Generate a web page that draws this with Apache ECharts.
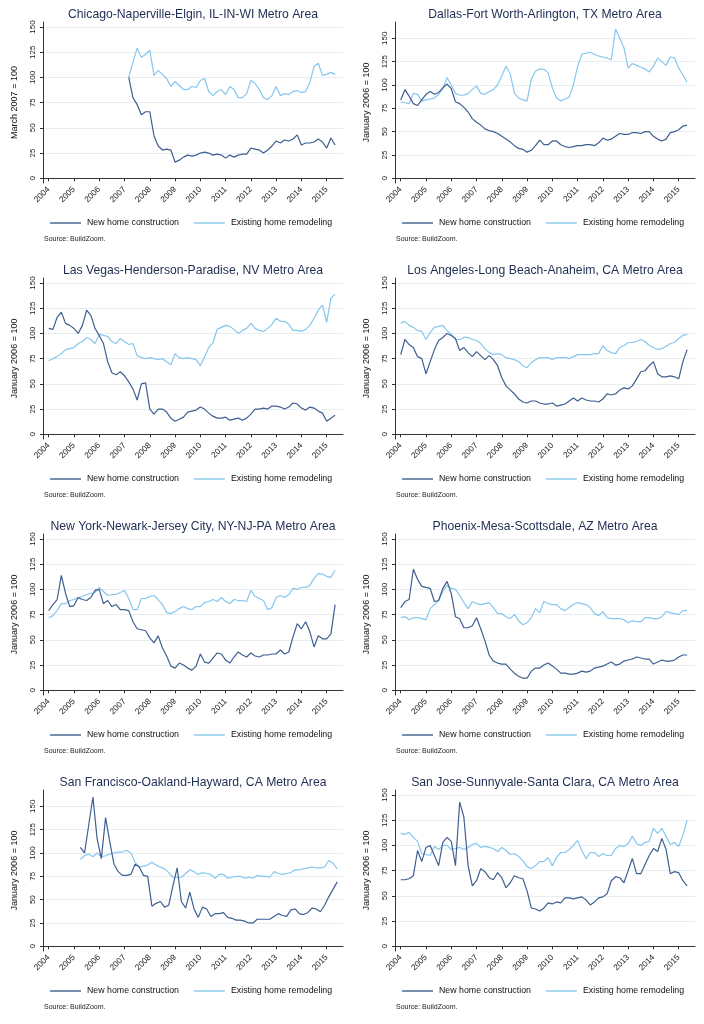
<!DOCTYPE html>
<html>
<head>
<meta charset="utf-8">
<script src="https://cdn.jsdelivr.net/npm/echarts@6/dist/echarts.min.js"></script>
<style>
html,body{margin:0;padding:0;background:#fff;width:704px;height:1024px;overflow:hidden;position:relative;}
.p{position:absolute;width:352px;height:256px;}
#sep{position:absolute;left:352px;top:0;width:1px;height:1020px;background:#f1f3f4;}
#bot{position:absolute;left:0;top:1020px;width:704px;height:4px;background:#dcdcdc;}
</style>
</head>
<body>
<div id="sep"></div>
<div id="bot"></div>
<div class="p" id="c0" style="left:0;top:0"></div>
<div class="p" id="c1" style="left:352px;top:0"></div>
<div class="p" id="c2" style="left:0;top:256px"></div>
<div class="p" id="c3" style="left:352px;top:256px"></div>
<div class="p" id="c4" style="left:0;top:512px"></div>
<div class="p" id="c5" style="left:352px;top:512px"></div>
<div class="p" id="c6" style="left:0;top:768px"></div>
<div class="p" id="c7" style="left:352px;top:768px"></div>
<script>
// ---- tick labels ----
const yearTicks = [2004,2005,2006,2007,2008,2009,2010,2011,2012,2013,2014,2015];
const valueTicks = [0,25,50,75,100,125,150];
const seriesNames = ['New home construction','Existing home remodeling'];

// ---- series values, one value every 2 months from the start month ----
const chicagoStart = '2007-03';
const chicagoNew = [100,80,73,63,66,66,42,32,28,29, 28,16,18,21,23,22,23,25,26,25, 23,24,23,20,23,21,23,24,24,30, 29,28,25,28,32,37,35,38,37,39, 43,33,35,35,36,39,36,30,40,33];
const chicagoRemodel = [100,115,129,120,123,127,102,107,103,99, 91,96,92,88,88,91,90,97,99,86, 82,86,88,83,91,88,80,80,84,97, 94,88,80,78,82,91,82,84,83,86, 87,85,86,95,111,114,102,103,105,103];

const dallasStart = '2004-01';
const dallasNew = [84,95,88,80,78,84,90,93,90,92, 97,101,96,82,80,76,71,64,60,57, 53,51,50,48,45,42,39,35,32,31, 28,30,35,41,36,36,40,40,36,34, 33,34,35,35,36,36,35,38,43,41, 42,45,48,47,47,49,49,48,50,50, 45,42,40,42,49,50,52,56,57];
const dallasRemodel = [82,81,80,91,90,83,84,85,86,90, 96,108,100,91,89,89,91,95,99,91, 90,93,95,100,110,120,112,91,86,84, 83,106,115,117,117,113,97,86,83,85, 87,100,120,133,134,135,133,131,130,129, 127,160,150,140,118,123,121,119,117,114, 120,129,125,121,130,129,118,111,103];

const vegasStart = '2004-01';
const vegasNew = [105,104,116,121,110,108,105,100,108,123, 118,105,98,90,72,61,59,62,58,52, 45,34,50,51,25,20,25,25,22,16, 13,15,17,22,23,24,27,25,21,18, 16,16,17,14,15,16,14,16,20,25, 25,26,25,28,28,27,25,27,31,30, 26,24,27,26,23,21,13,16,19];
const vegasRemodel = [73,75,77,80,84,85,86,90,92,96, 94,90,99,98,97,92,90,95,92,89, 90,78,76,75,76,75,74,75,72,69, 80,76,75,76,75,74,68,77,86,91, 104,106,108,107,104,100,103,105,110,105, 103,102,105,109,115,112,112,109,103,103, 102,104,108,115,123,128,111,135,139];

const laStart = '2004-01';
const laNew = [79,94,89,86,77,75,60,72,84,93, 96,100,98,95,83,86,81,77,82,78, 74,78,74,68,56,48,44,40,35,32, 31,33,33,31,30,30,31,28,29,30, 33,36,33,36,34,33,33,32,35,40, 39,40,44,46,45,48,55,62,63,68, 72,60,57,57,58,57,55,72,84];
const laRemodel = [110,112,108,106,103,102,94,101,106,107, 108,103,99,94,94,96,96,94,93,90, 85,81,79,80,79,76,75,74,72,68, 66,71,74,76,76,76,74,76,76,76, 75,77,79,79,79,79,80,80,88,83, 81,80,86,88,91,91,92,94,92,88, 86,84,85,87,90,91,95,98,99];

const nyStart = '2004-01';
const nyNew = [79,85,90,114,96,83,84,92,90,89, 92,99,100,86,89,83,85,80,80,79, 68,61,60,59,52,47,54,42,34,24, 22,27,25,22,20,24,36,28,27,32, 37,36,30,27,33,38,35,33,37,34, 33,35,35,36,36,40,36,38,53,66, 61,68,58,43,54,51,51,56,85];
const nyRemodel = [72,74,79,86,86,89,90,92,93,95, 96,97,102,98,94,95,95,97,99,91, 80,80,91,91,93,94,90,85,77,76, 78,81,83,81,80,83,83,87,88,90, 88,92,88,86,90,89,89,88,99,93, 91,89,80,82,92,94,92,95,101,100, 102,102,104,111,116,115,113,112,119];

const phoenixStart = '2004-01';
const phoenixNew = [82,88,90,120,110,103,102,101,88,89, 101,108,96,73,71,62,62,64,72,61, 49,35,29,27,26,26,21,17,14,12, 12,19,22,22,25,27,24,21,17,17, 16,16,17,19,18,19,22,23,24,26, 28,25,26,29,30,31,33,32,31,31, 26,28,30,29,29,30,33,35,35];
const phoenixRemodel = [72,73,70,72,72,71,70,81,85,89, 98,104,101,100,94,87,81,88,86,85, 86,87,82,76,76,73,71,75,69,65, 67,72,81,77,88,86,85,85,81,79, 82,85,87,86,85,82,76,74,78,72, 71,71,71,70,67,69,68,68,72,72, 71,71,73,78,77,76,75,79,79];

const sfStart = '2005-04';
const sfNew = [106,100,130,160,115,94,138,112,88,80, 76,76,77,88,85,76,75,43,46,48, 42,44,65,84,48,41,58,40,31,42, 40,32,35,35,36,31,30,28,28,27, 25,25,29,29,29,29,32,35,33,32, 39,40,35,34,36,41,40,37,44,53, 61,69];
const sfRemodel = [93,97,99,96,100,96,97,99,100,101, 101,103,100,90,85,86,87,90,87,85, 83,79,74,74,74,78,82,80,77,79, 78,77,73,77,77,73,74,75,75,73, 74,73,76,75,75,74,80,78,77,78, 79,82,82,83,84,85,84,84,85,92, 89,83];

const sanjoseStart = '2004-01';
const sanjoseNew = [66,66,67,70,95,84,98,100,90,80, 103,108,104,80,143,128,80,60,65,77, 74,68,66,73,68,58,63,70,68,67, 55,38,37,35,38,43,42,44,43,48, 48,47,48,49,46,41,44,48,49,52, 65,69,68,63,75,87,72,72,81,90, 97,94,107,96,72,74,73,65,60];
const sanjoseRemodel = [112,111,113,108,104,92,91,90,99,96, 100,100,96,97,98,96,98,101,102,98, 99,98,97,94,98,95,91,92,89,85, 79,77,80,84,84,88,80,88,93,93, 96,100,105,95,87,93,93,89,92,90, 90,97,100,99,102,109,102,100,103,104, 117,112,117,109,101,103,99,110,125];

// ---- panels ----
const panels = [
  {title:'Chicago-Naperville-Elgin, IL-IN-WI Metro Area', yName:'March 2007 = 100', start:chicagoStart, a:chicagoNew, b:chicagoRemodel, tall:false},
  {title:'Dallas-Fort Worth-Arlington, TX Metro Area', yName:'January 2006 = 100', start:dallasStart, a:dallasNew, b:dallasRemodel, tall:true},
  {title:'Las Vegas-Henderson-Paradise, NV Metro Area', yName:'January 2006 = 100', start:vegasStart, a:vegasNew, b:vegasRemodel, tall:false},
  {title:'Los Angeles-Long Beach-Anaheim, CA Metro Area', yName:'January 2006 = 100', start:laStart, a:laNew, b:laRemodel, tall:false},
  {title:'New York-Newark-Jersey City, NY-NJ-PA Metro Area', yName:'January 2006 = 100', start:nyStart, a:nyNew, b:nyRemodel, tall:false},
  {title:'Phoenix-Mesa-Scottsdale, AZ Metro Area', yName:'January 2006 = 100', start:phoenixStart, a:phoenixNew, b:phoenixRemodel, tall:false},
  {title:'San Francisco-Oakland-Hayward, CA Metro Area', yName:'January 2006 = 100', start:sfStart, a:sfNew, b:sfRemodel, tall:true},
  {title:'San Jose-Sunnyvale-Santa Clara, CA Metro Area', yName:'January 2006 = 100', start:sanjoseStart, a:sanjoseNew, b:sanjoseRemodel, tall:false}
];

const FONT = '"Liberation Sans", Arial, Helvetica, sans-serif';
const DARK = '#3f5f90';
const LIGHT = '#86c7ee';

function toPairs(start, arr){
  const [y,m] = start.split('-').map(Number);
  const t0 = y + (m-1)/12;
  return arr.map((v,i)=>[t0 + i*2/12, v]);
}

panels.forEach((p, idx) => {
  const chart = echarts.init(document.getElementById('c'+idx), null, {renderer:'canvas'});
  const yMin = p.tall ? -5.04 : -4.66;
  const yMax = p.tall ? 167.5 : 154.96;
  chart.setOption({
    animation:false,
    backgroundColor:'#fff',
    textStyle:{fontFamily:FONT},
    title:[
      {text:p.title, left:193, top:8.5, padding:0, textAlign:'center',
       textStyle:{fontSize:12.2, fontWeight:'normal', color:'#1e2d52', fontFamily:FONT}},
      {text:'Source: BuildZoom.', left:44, top:235.5, padding:0,
       textStyle:{fontSize:7, fontWeight:'normal', color:'#222', fontFamily:FONT}}
    ],
    legend:{
      left:50, top:218.5, padding:0, width:330, orient:'horizontal',
      icon:'rect', itemWidth:31, itemHeight:1.4, itemGap:15,
      textStyle:{fontSize:8.8, color:'#111', fontFamily:FONT, padding:[0,0,0,1]},
      data:seriesNames
    },
    grid:{left:43, right:9, top:22, bottom:73, containLabel:false},
    xAxis:{
      type:'value', min:2003.774, max:2015.645,
      axisLine:{show:true, lineStyle:{color:'#333', width:1}},
      axisTick:{show:true, length:3, customValues:yearTicks, lineStyle:{color:'#333'}},
      axisLabel:{customValues:yearTicks, rotate:45, fontSize:8.3, margin:5, color:'#1a1a1a',
                 fontFamily:FONT, formatter:v=>String(v)},
      splitLine:{show:false}
    },
    yAxis:{
      type:'value', min:yMin, max:yMax,
      name:p.yName, nameLocation:'middle', nameGap:24, nameRotate:90,
      nameTextStyle:{fontSize:9, color:'#111', fontFamily:FONT},
      axisLine:{show:true, lineStyle:{color:'#333', width:1}},
      axisTick:{show:true, length:3, customValues:valueTicks, lineStyle:{color:'#333'}},
      axisLabel:{customValues:valueTicks, rotate:90, fontSize:8, margin:6, color:'#1a1a1a',
                 fontFamily:FONT, formatter:v=>String(v)},
      splitLine:{show:true, lineStyle:{color:'#e6eef0', width:1}}
    },
    series:[
      {name:seriesNames[0], type:'line', data:toPairs(p.start, p.a), symbol:'none',
       lineStyle:{color:DARK, width:1.2}, itemStyle:{color:DARK}, z:3},
      {name:seriesNames[1], type:'line', data:toPairs(p.start, p.b), symbol:'none',
       lineStyle:{color:LIGHT, width:1.2}, itemStyle:{color:LIGHT}, z:2}
    ]
  });
});
</script>
</body>
</html>
